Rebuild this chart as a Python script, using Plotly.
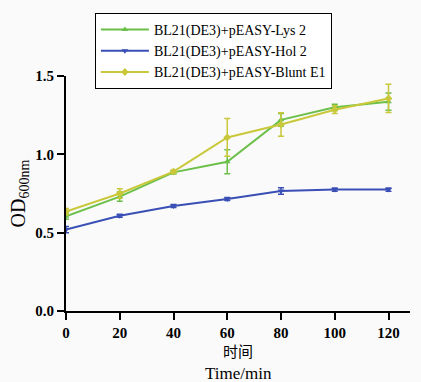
import plotly.graph_objects as go

time = [0, 20, 40, 60, 80, 100, 120]
lys2 = [0.605, 0.73, 0.885, 0.953, 1.22, 1.30, 1.336]
lys2_err = [0.02, 0.03, 0.01, 0.077, 0.04, 0.02, 0.055]
hol2 = [0.52, 0.608, 0.67, 0.715, 0.766, 0.775, 0.775]
hol2_err = [0.02, 0.01, 0.01, 0.01, 0.02, 0.01, 0.01]
blunt = [0.635, 0.75, 0.89, 1.108, 1.19, 1.285, 1.357]
blunt_err = [0.02, 0.03, 0.01, 0.12, 0.075, 0.025, 0.09]

names = ["BL21(DE3)+pEASY-Lys 2", "BL21(DE3)+pEASY-Hol 2", "BL21(DE3)+pEASY-Blunt E1"]
colors = ["#6cc04a", "#3a4fb5", "#c9c83a"]
symbols = ["triangle-up", "triangle-down", "diamond"]
series = [(lys2, lys2_err), (hol2, hol2_err), (blunt, blunt_err)]

fig = go.Figure()
for (vals, err), name, c, s in zip(series, names, colors, symbols):
    fig.add_trace(go.Scatter(
        x=time, y=vals, name=name, mode="lines+markers",
        line=dict(color=c, width=2),
        marker=dict(symbol=s, size=6, color=c),
        error_y=dict(type="data", array=err, visible=True, color=c, thickness=1.5, width=3),
    ))

serif = "Liberation Serif"
fig.update_layout(
    width=421, height=382,
    margin=dict(l=66, r=11, t=76, b=71, autoexpand=False),
    paper_bgcolor="#fafafa", plot_bgcolor="#fafafa",
    font=dict(family=serif, color="black"),
    showlegend=True,
    legend=dict(x=0.084, y=1.268, xanchor="left", yanchor="top",
                bgcolor="white", bordercolor="black", borderwidth=1,
                itemwidth=48,
                font=dict(family=serif, size=14), tracegroupgap=0),
    xaxis=dict(range=[0, 128], tickvals=time, ticktext=[str(t) for t in time],
               automargin=False,
               showgrid=False, zeroline=False, showline=True, linecolor="black", linewidth=2,
               ticks="outside", ticklen=7, tickwidth=2, tickcolor="black",
               tickfont=dict(family=serif, size=15, color="black", weight="bold")),
    yaxis=dict(range=[0, 1.5], tickvals=[0, 0.5, 1.0, 1.5], ticktext=["0.0", "0.5", "1.0", "1.5"],
               automargin=False,
               showgrid=False, zeroline=False, showline=True, linecolor="black", linewidth=2,
               ticks="outside", ticklen=7, tickwidth=2, tickcolor="black",
               tickfont=dict(family=serif, size=15, color="black", weight="bold"),
               title=dict(text="OD<sub>600nm</sub>", font=dict(family=serif, size=20), standoff=4)),
    annotations=[
        dict(text="时间", xref="paper", yref="paper", x=0.5, y=-0.17, xanchor="center", yanchor="middle",
             showarrow=False, font=dict(family="Noto Sans CJK SC", size=15, color="black")),
        dict(text="Time/min", xref="paper", yref="paper", x=0.5, y=-0.265, xanchor="center", yanchor="middle",
             showarrow=False, font=dict(family=serif, size=17, color="black")),
    ],
)
fig.write_html("out.html", config={"displayModeBar": False},
               post_script="document.body.style.margin='0';")
